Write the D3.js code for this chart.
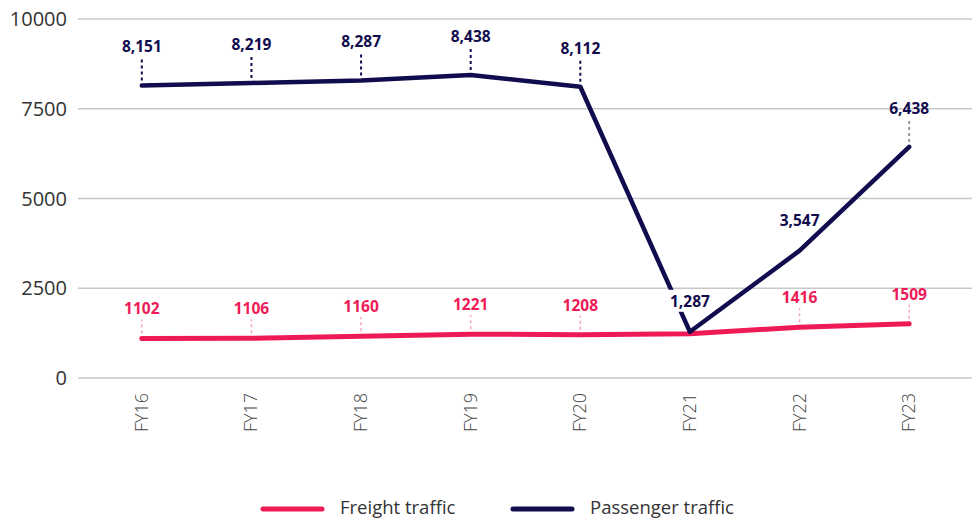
<!DOCTYPE html>
<html>
<head>
<meta charset="utf-8">
<script src="https://cdn.jsdelivr.net/npm/d3@7"></script>
<style>
  body { margin: 0; background: #fff; }
  svg { font-family: "Open Sans", "Noto Sans", sans-serif; }
  .grid line { stroke: #c8c8c8; stroke-width: 1.5; }
  .ytick { fill: #333; font-size: 20px; font-weight: 500; }
  .xtick { fill: #444; font-size: 18px; font-weight: 300; }
  .lbl { font-size: 15.5px; font-weight: 700; }
  .legend text { fill: #333; font-size: 18.5px; }
</style>
</head>
<body>
<svg id="chart" width="972" height="519"></svg>
<script>
// values
var years = ['FY16', 'FY17', 'FY18', 'FY19', 'FY20', 'FY21', 'FY22', 'FY23'];
var passenger = [8151, 8219, 8287, 8438, 8112, 1287, 3547, 6438];
var freight = [1102, 1106, 1160, 1221, 1208, 1233, 1416, 1509];
var freightShown = [true, true, true, true, true, false, true, true];
var yTicks = [0, 2500, 5000, 7500, 10000];

var navy = '#110c4e';
var pink = '#ee1a55';

var svg = d3.select('#chart');

var x = d3.scalePoint().domain(years).range([87, 964]).padding(0.5);
var y = d3.scaleLinear().domain([0, 10000]).range([378, 19]);

// gridlines
svg.append('g').attr('class', 'grid')
    .selectAll('line').data(yTicks).enter().append('line')
    .attr('x1', 78).attr('x2', 972)
    .attr('y1', function(d) { return y(d); })
    .attr('y2', function(d) { return y(d); });

svg.append('g').selectAll('text').data(yTicks).enter().append('text')
    .attr('class', 'ytick')
    .attr('x', 67)
    .attr('y', function(d) { return y(d); })
    .attr('dy', '0.35em')
    .attr('text-anchor', 'end')
    .text(function(d) { return d; });

// x labels, rotated
svg.append('g').selectAll('text').data(years).enter().append('text')
    .attr('class', 'xtick')
    .attr('text-anchor', 'end')
    .attr('transform', function(d) { return 'translate(' + (x(d) + 6) + ',393) rotate(-90)'; })
    .text(function(d) { return d; });

var line = d3.line()
    .x(function(d, i) { return x(years[i]); })
    .y(function(d) { return y(d); });

svg.append('path').datum(freight)
    .attr('d', line)
    .attr('fill', 'none').attr('stroke', pink)
    .attr('stroke-width', 5).attr('stroke-linecap', 'round').attr('stroke-linejoin', 'round');

svg.append('path').datum(passenger)
    .attr('d', line)
    .attr('fill', 'none').attr('stroke', navy)
    .attr('stroke-width', 4.5).attr('stroke-linecap', 'round').attr('stroke-linejoin', 'round');

// freight labels + leaders
var fg = svg.append('g');
freight.forEach(function(v, i) {
    if (!freightShown[i]) return;
    var cx = x(years[i]), cy = y(v);
    fg.append('line')
        .attr('x1', cx).attr('x2', cx)
        .attr('y1', cy - 5).attr('y2', cy - 19)
        .attr('stroke', '#f7a3bd').attr('stroke-width', 1.5)
        .attr('stroke-dasharray', '3,3');
    fg.append('text').attr('class', 'lbl')
        .attr('x', cx).attr('y', cy - 24)
        .attr('text-anchor', 'middle').attr('fill', pink)
        .text(v);
});

// passenger labels
var fmt = d3.format(',');
var pg = svg.append('g');
passenger.forEach(function(v, i) {
    var cx = x(years[i]), cy = y(v);
    var drop = v < 5000; // the two low points sit without a leader
    if (!drop) {
        pg.append('line')
            .attr('x1', cx).attr('x2', cx)
            .attr('y1', cy - 5).attr('y2', cy - 26)
            .attr('stroke', i === years.length - 1 ? '#999' : navy).attr('stroke-width', 2)
            .attr('stroke-dasharray', '3,3');
    }
    var t = pg.append('text').attr('class', 'lbl')
        .attr('x', cx).attr('y', drop ? cy - 25 : cy - 33)
        .attr('text-anchor', 'middle').attr('fill', navy)
        .text(fmt(v));
    if (i === 5) {
        var b = t.node().getBBox();
        pg.insert('rect', function() { return t.node(); })
            .attr('x', b.x - 2).attr('y', b.y).attr('width', b.width + 4).attr('height', b.height)
            .attr('fill', '#fff');
    }
});

// legend
var legend = [['Freight traffic', pink, 263], ['Passenger traffic', navy, 513]];
var lg = svg.append('g').attr('class', 'legend');
legend.forEach(function(l) {
    lg.append('line')
        .attr('x1', l[2]).attr('x2', l[2] + 59)
        .attr('y1', 509).attr('y2', 509)
        .attr('stroke', l[1]).attr('stroke-width', 5).attr('stroke-linecap', 'round');
    lg.append('text').attr('x', l[2] + 77).attr('y', 514).text(l[0]);
});
</script>
</body>
</html>
